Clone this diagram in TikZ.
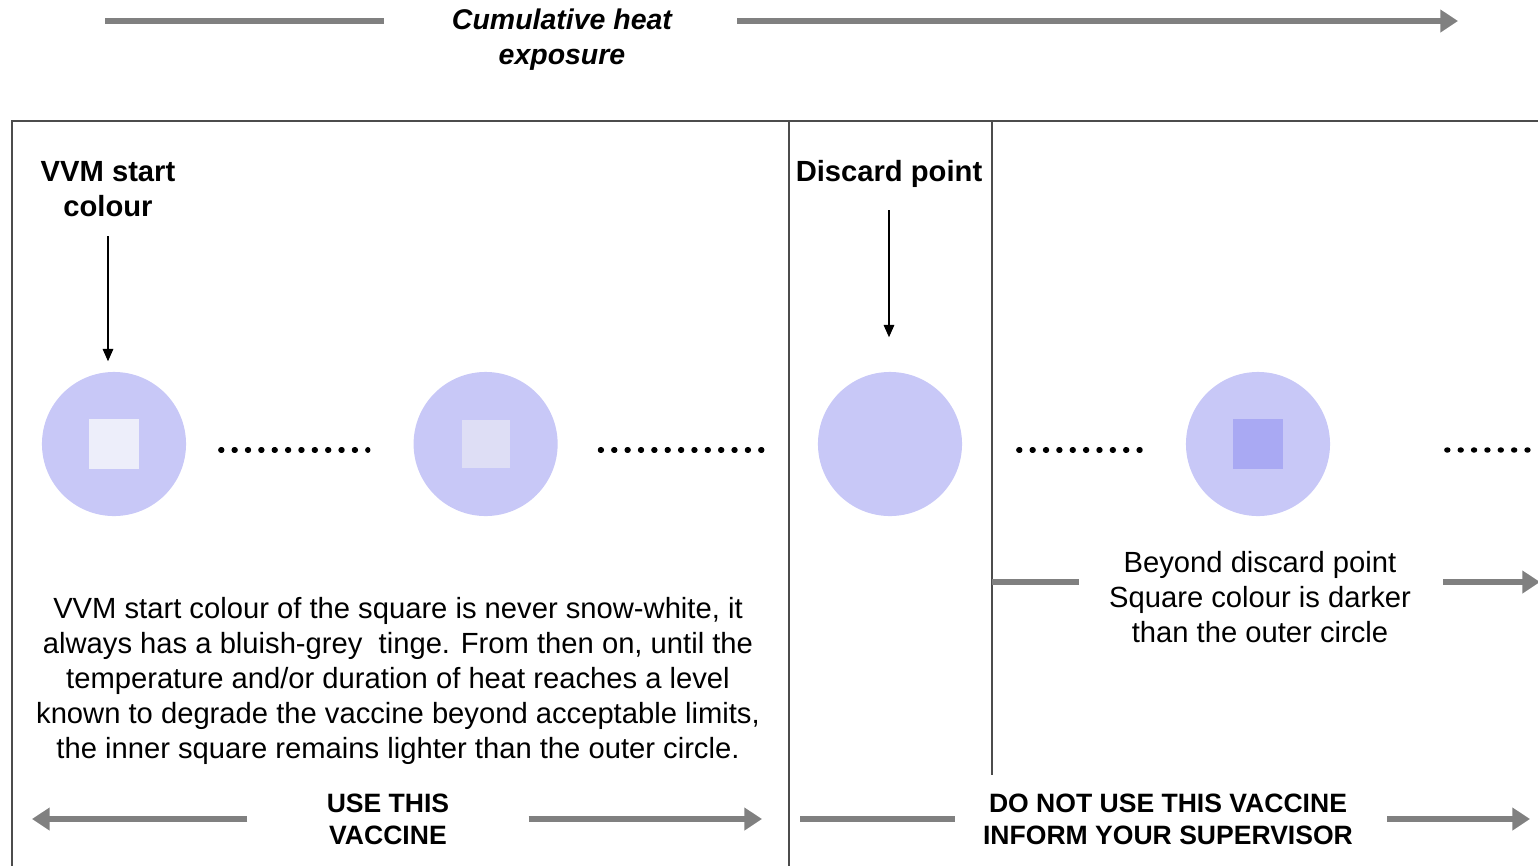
\documentclass[tikz,border=0pt]{standalone}
\usepackage{fontspec}
\setmainfont{Liberation Sans}
\usetikzlibrary{positioning, arrows.meta}
\definecolor{vvmcircle}{HTML}{C8C8F7}
\definecolor{sqstart}{HTML}{EDEEFA}
\definecolor{sqmid}{HTML}{DEDEF5}
\definecolor{sqdark}{HTML}{A9A9F3}
\definecolor{flowgrey}{HTML}{808080}

\begin{document}
\begin{tikzpicture}[
        x=0.01cm, y=-0.01cm,
        frame/.style={draw=black!70, line width=0.6pt},
        flow/.style={draw=flowgrey, line width=1.6pt},
        flowarrow/.style={flow, -{Triangle[length=5pt, width=6.2pt]}},
        pointer/.style={draw=black, line width=0.4pt, -{Triangle[length=3.5pt, width=3pt]}},
        vvm/.style={circle, fill=vvmcircle, minimum size=1.44cm, inner sep=0pt},
        inner/.style={minimum size=0.49cm, inner sep=0pt},
        dots/.style={line width=1.5pt, line cap=round, dash pattern=on 0.3pt off 3.5pt},
        heading/.style={font=\bfseries\fontsize{8.3}{10}\selectfont, align=center},
        note/.style={font=\fontsize{8.3}{9.96}\selectfont, align=center},
        verdict/.style={font=\bfseries\fontsize{7.55}{9.1}\selectfont, align=center},
    ]
        \useasboundingbox (0,0) rectangle (1538,866);

        % Heat exposure scale
        \node[font=\bfseries\itshape\fontsize{8.1}{9.96}\selectfont, align=center] (title) at (562,40) {Cumulative heat\\exposure};
        \coordinate (heatstart) at (105,21);
        \coordinate (heatend) at (1458,21);
        \draw[flow, shorten >=0.56cm] (heatstart) -- (title.west |- heatstart);
        \draw[flowarrow, shorten <=0.53cm] (title.east |- heatend) -- (heatend);

        % Frame and dividers
        \draw[frame] (12,866) |- (1538,121);
        \draw[frame] (789,121) -- (789,866);
        \draw[frame] (992,121) -- (992,775);

        % VVM stages
        \node[vvm] (c1) at (114,444) {};
        \node[vvm, right=2.26cm of c1] (c2) {};
        \node[vvm] (c3) at (890,444) {};
        \node[vvm] (c4) at (1258,444) {};
        \node[inner, fill=sqstart, minimum size=0.5cm] (s1) at (c1) {};
        \node[inner, fill=sqmid, minimum size=0.48cm] (s2) at (c2) {};
        \node[inner, fill=sqdark] (s4) at (c4) {};

        \coordinate (dotsend) at (1528,450);
        \draw[dots, shorten <=0.34cm, shorten >=0.45cm] ([yshift=-0.06cm]c1.east) -- ([yshift=-0.06cm]c2.west);
        \draw[dots, shorten <=0.42cm, shorten >=0.5cm] ([yshift=-0.06cm]c2.east) -- ([yshift=-0.06cm]c3.west);
        \draw[dots, shorten <=0.56cm, shorten >=0.38cm] ([yshift=-0.06cm]c3.east) -- ([yshift=-0.06cm]c4.west);
        \draw[dots, shorten <=1.16cm] ([yshift=-0.06cm]c4.east) -- (dotsend);

        % Labels with pointers
        \node[heading] (start) at (108,189) {VVM start\\colour};
        \node[heading] (discard) at (889,174) {Discard point};
        \draw[pointer] ([yshift=-0.07cm]start.south) -- ([yshift=0.1cm]start.south |- c1.north);
        \draw[pointer] ([yshift=-0.1cm]discard.south) -- ([yshift=0.34cm]discard.south |- c3.north);

        % Explanations
        \node[note] (startnote) at (398,681) {VVM start colour of the square is never snow-white, it\\always has a bluish-grey\ \ tinge. From then on, until the\\temperature and/or duration of heat reaches a level\\known to degrade the vaccine beyond acceptable limits,\\the inner square remains lighter than the outer circle.};
        \node[note] (beyond) at (1260,597) {Beyond discard point\\Square colour is darker\\than the outer circle};
        \coordinate (split) at (992,582);
        \coordinate (beyondend) at (1540,582);
        \draw[flow, shorten >=0.18cm] (split) -- (split -| beyond.west);
        \draw[flowarrow, shorten <=0.2cm] (beyondend -| beyond.east) -- (beyondend);

        % Verdicts
        \node[verdict] (use) at (388,819) {USE THIS\\VACCINE};
        \node[verdict] (donot) at (1168,819) {DO NOT USE THIS VACCINE\\INFORM YOUR SUPERVISOR};
        \coordinate (useleft) at (32,819);
        \coordinate (useright) at (762,819);
        \coordinate (donotleft) at (800,819);
        \coordinate (donotright) at (1530,819);
        \draw[flowarrow, shorten <=0.67cm] (use.west) -- (useleft);
        \draw[flowarrow, shorten <=0.67cm] (use.east) -- (useright);
        \draw[flow, shorten >=0.16cm] (donotleft) -- (donot.west);
        \draw[flowarrow, shorten <=0.22cm] (donot.east) -- (donotright);
    \end{tikzpicture}
\end{document}
